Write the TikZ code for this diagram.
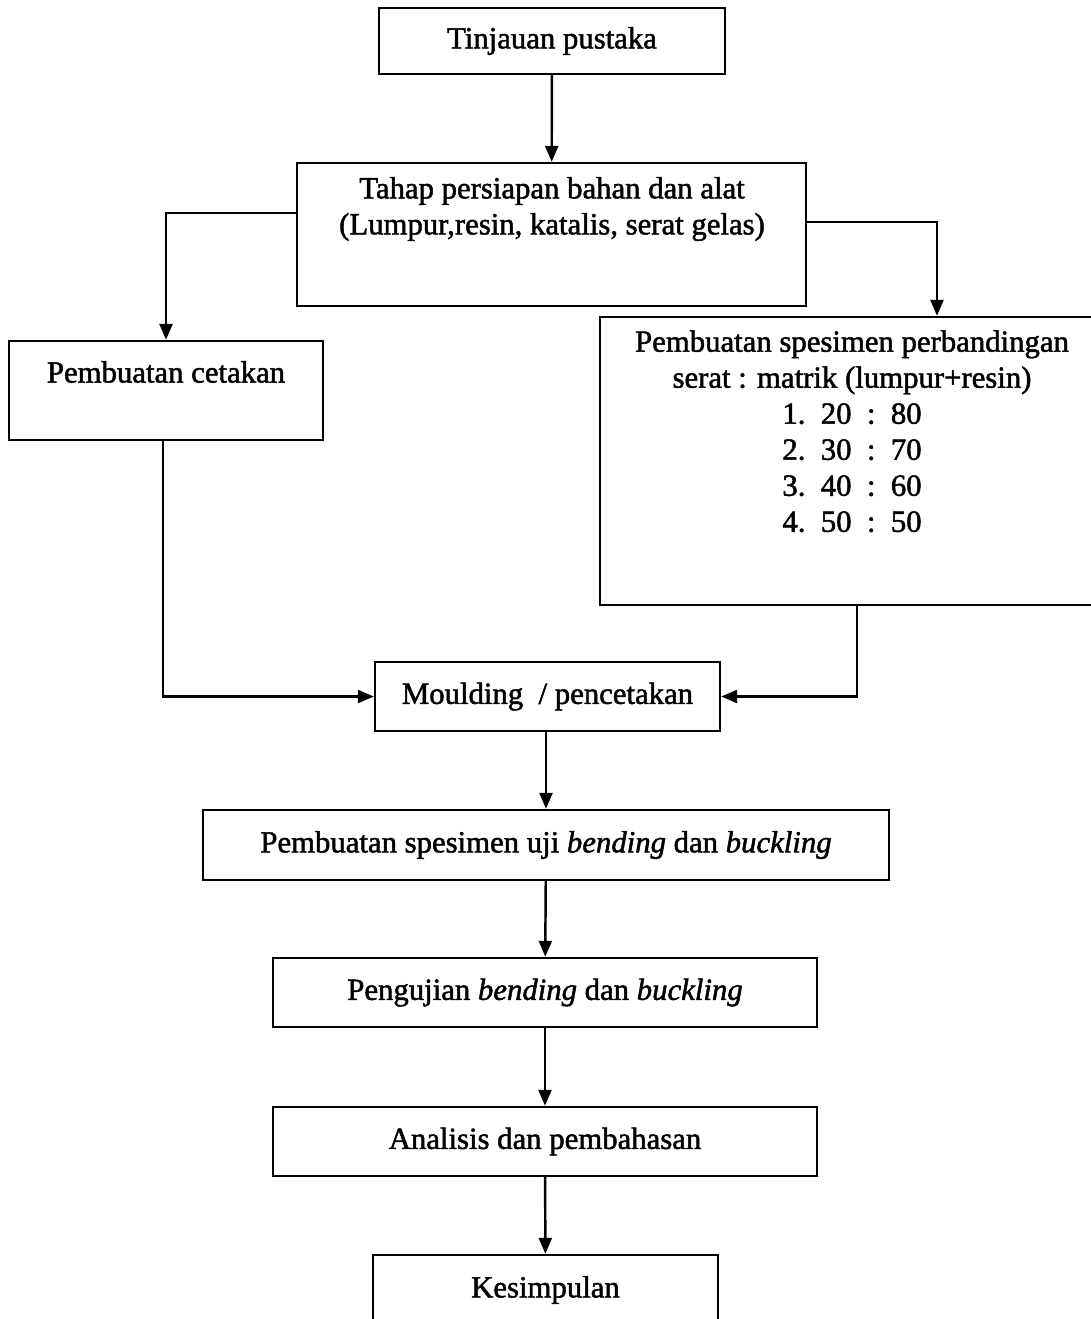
\documentclass[tikz,border=0pt]{standalone}
\usepackage{fontspec}
\setmainfont{Liberation Serif}[FakeBold=1.6]
\usetikzlibrary{arrows.meta}

\tikzset{
    kotak/.style={draw, line width=1.4pt, inner sep=0pt, font=\fontsize{17.5}{20.5}\selectfont},
    teks/.style={inner sep=0pt, align=center, font=\fontsize{17.5}{20.5}\selectfont},
    panah/.style={-{Triangle[length=3.2mm,width=2.6mm]}, line width=1.4pt},
}

\begin{document}
\begin{tikzpicture}[x=0.02cm, y=-0.02cm]
    \useasboundingbox (0,0) rectangle (1090,1319);

    % Top: literature and preparation
    \node[kotak, minimum width=6.92cm, minimum height=1.32cm] (tinjauan) at (552,41) {Tinjauan pustaka};
    \node[kotak, minimum width=10.18cm, minimum height=2.86cm] (tahap) at (551.5,234.5) {};
    \node[teks] (tahap-teks) at (552,209) {Tahap persiapan bahan dan alat\\(Lumpur,resin, katalis, serat gelas)};

    % Middle: mould and specimen ratios
    \node[kotak, minimum width=6.28cm, minimum height=1.98cm] (cetakan) at (166,390.5) {};
    \node[teks] (cetakan-teks) at (166,372) {Pembuatan cetakan};
    \node[kotak, minimum width=10.28cm, minimum height=5.76cm] (spesimen) at (857,461) {};
    \node[teks, anchor=north] (spesimen-teks) at (852,330) {Pembuatan spesimen perbandingan\\serat : matrik (lumpur+resin)\\1.~~20~~:~~80\\2.~~30~~:~~70\\3.~~40~~:~~60\\4.~~50~~:~~50};

    % Bottom: moulding to conclusion
    \node[kotak, minimum width=6.9cm, minimum height=1.38cm] (moulding) at (547.5,696.5) {Moulding~~/ pencetakan};
    \node[kotak, minimum width=13.72cm, minimum height=1.4cm] (uji) at (546,845) {Pembuatan spesimen uji \textit{bending} dan \textit{buckling}};
    \node[kotak, minimum width=10.88cm, minimum height=1.38cm] (pengujian) at (545,992.5) {Pengujian \textit{bending} dan \textit{buckling}};
    \node[kotak, minimum width=10.88cm, minimum height=1.38cm] (analisis) at (545,1141.5) {Analisis dan pembahasan};
    \node[kotak, minimum width=6.9cm, minimum height=1.4cm] (kesimpulan) at (545.5,1290) {Kesimpulan};

    % Connectors
    \draw[panah] (tinjauan) -- (tahap);
    \draw[panah] ([yshift=0.43cm]tahap.west) -| (cetakan.north);
    \draw[panah] ([yshift=0.25cm]tahap.east) -| ([xshift=1.6cm]spesimen.north);
    \draw[panah] ([xshift=-0.06cm]cetakan.south) |- (moulding.west);
    \draw[panah] (spesimen.south) |- (moulding.east);
    \draw[panah] (moulding.south -| uji.north) -- (uji.north);
    \draw[panah] (uji) -- (pengujian);
    \draw[panah] (pengujian) -- (analisis);
    \draw[panah] (analisis) -- (kesimpulan);
\end{tikzpicture}
\end{document}
